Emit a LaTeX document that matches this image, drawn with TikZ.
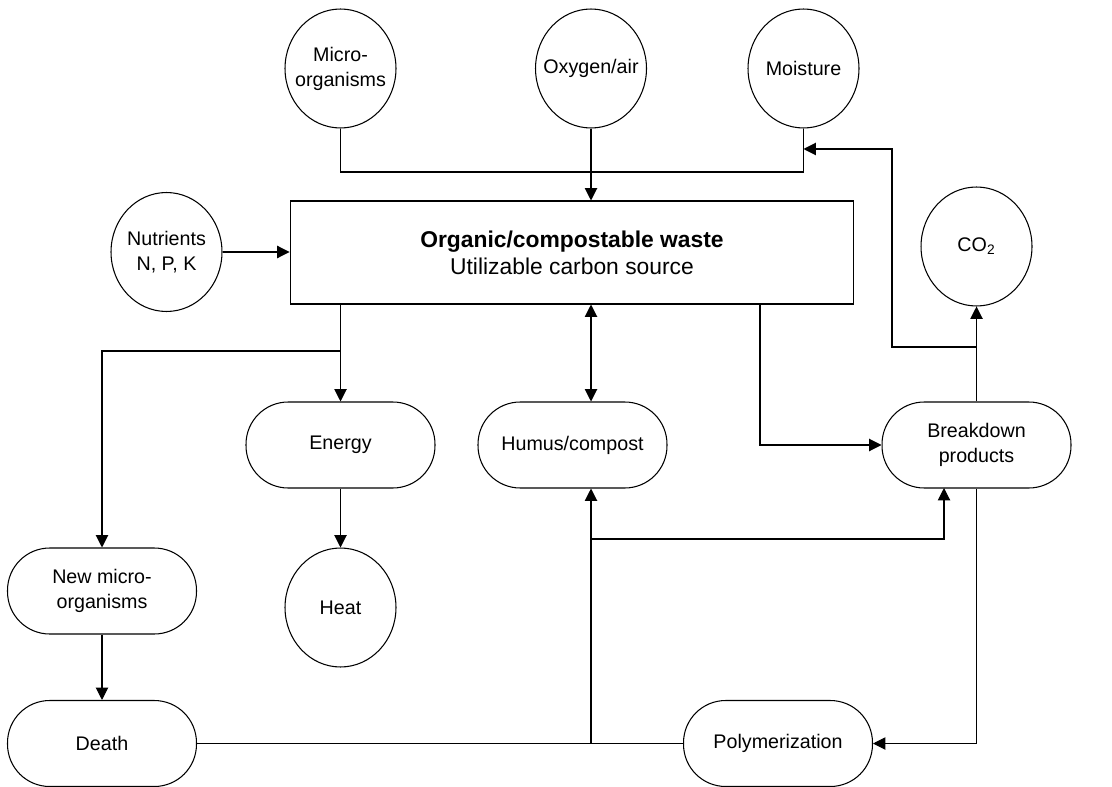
\documentclass[tikz,border=0pt]{standalone}
\usepackage{fontspec}
\setmainfont{Liberation Sans}
\usepackage{tikz}
\usetikzlibrary{positioning,arrows.meta,shapes.geometric}

\begin{document}
\begin{tikzpicture}[x=0.02cm,y=-0.02cm,font=\fontsize{11.2}{14.2}\selectfont,line width=0.6pt,
  bub/.style={draw,ellipse,minimum width=2.22cm,minimum height=2.38cm,inner sep=0pt,
    label={[align=center]center:#1}},
  pill/.style={draw,rounded corners=24pt,minimum width=3.78cm,minimum height=1.72cm,align=center},
  arr/.style={-{Triangle[length=7pt,width=7pt]}},
  arrs/.style={{Triangle[length=7pt,width=7pt]}-{Triangle[length=7pt,width=7pt]}}]
\useasboundingbox (0,0) rectangle (1112,787);
% inputs
\node[bub={Micro-\\organisms}] (micro) at (340.5,68.5) {};
\node[bub={Oxygen/air}] (oxy) at (591,68.5) {};
\node[bub={Moisture}] (moist) at (803.5,68.5) {};
\node[bub={Nutrients\\N, P, K}] (nutr) at (166.5,252) {};
\node[bub={CO\textsubscript{2}}] (co2) at (976.5,246.5) {};
\node[draw,minimum width=11.28cm,minimum height=2.06cm,align=center,
  font=\fontsize{13}{15.4}\selectfont] (waste) at (572,252.5)
  {\textbf{Organic/compostable waste}\\Utilizable carbon source};
% products
\node[pill] (energy) at (340.5,445) {Energy};
\node[pill] (humus) at (572.5,445) {Humus/compost};
\node[pill] (brk) at (976.5,445) {Breakdown\\products};
\node[pill] (newmo) at (102,591) {New micro-\\organisms};
\node[bub={Heat}] (heat) at (340.5,607.5) {};
\node[pill] (death) at (102,743.5) {Death};
\node[pill] (poly) at (778,743.5) {Polymerization};
% junctions
\coordinate (jtop) at (591,172);
\coordinate (jleft) at (340.5,351);
\coordinate (wout) at (760,304);
\coordinate (jco2) at (976.5,347);
\coordinate (kink) at (892,347);
\coordinate (jmoist) at (803.5,149);
\coordinate (jbot) at (591,743.5);
\coordinate (jmid) at (591,539);
\coordinate (bkin) at (944,488);
% connectors
\draw (micro.south) |- (jtop) -| (moist.south);
\draw[arr] (oxy.south) -- (oxy.south |- waste.north);
\draw[arr] (nutr.east) -- (nutr.east -| waste.west);
\draw[arr] (energy.north |- waste.south) -- (energy.north);
\draw[arr] (jleft) -| (newmo.north);
\draw[arrs] (oxy.south |- waste.south) -- (oxy.south |- humus.north);
\draw[arr] (wout) |- (brk.west);
\draw[arr] (brk.north) -- (co2.south);
\draw[arr] (jco2) -- (kink) |- (jmoist);
\draw[arr] (energy) -- (heat);
\draw[arr] (newmo) -- (death);
\draw (death.east) -- (poly.west);
\draw[arr] (jbot) -- (jbot |- humus.south);
\draw[arr] (jmid) -| (bkin);
\draw[arr] (brk.south) |- (poly.east);
\end{tikzpicture}
\end{document}
